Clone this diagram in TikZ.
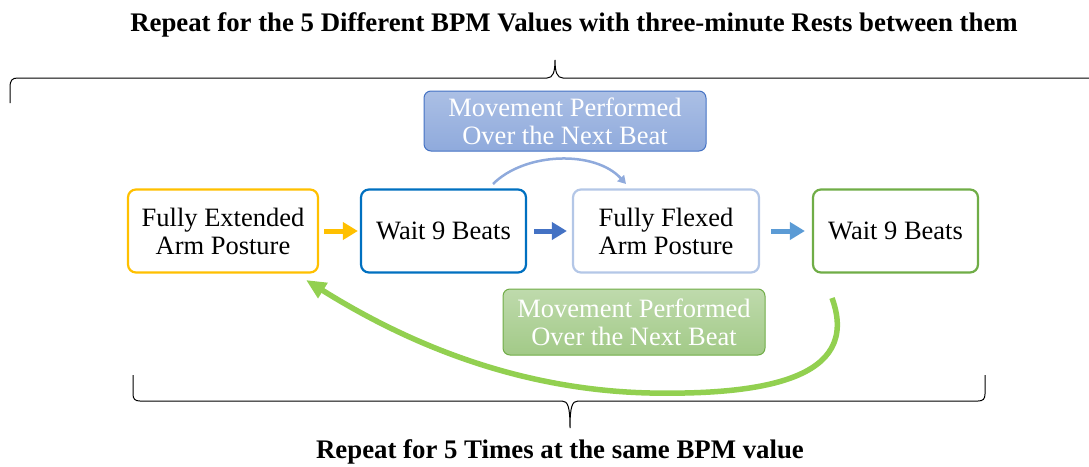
\documentclass[tikz,border=0pt]{standalone}
\usepackage{fontspec}
\setmainfont{Liberation Serif}
\usetikzlibrary{arrows.meta}
\definecolor{cYellow}{HTML}{FFC000}
\definecolor{cBlue}{HTML}{0070C0}
\definecolor{cLav}{HTML}{B4C7E7}
\definecolor{cGreen}{HTML}{70AD47}
\definecolor{cArrowB}{HTML}{4472C4}
\definecolor{cArrowL}{HTML}{5B9BD5}
\definecolor{cArc}{HTML}{8FAADC}
\definecolor{cLoop}{HTML}{92D050}
\tikzset{
  stagebox/.style={draw, line width=2.2pt, rounded corners=8pt, fill=white,
    align=center, font=\rmfamily\fontsize{26.5}{28}\selectfont, inner sep=0pt},
  notebox/.style={draw, line width=1pt, rounded corners=7pt, align=center,
    text=white, font=\rmfamily\fontsize{26.5}{28}\selectfont, inner sep=0pt},
  flowarrow/.style={line width=5pt, -{Triangle[length=15pt,width=17pt]}},
  brace/.style={line width=1pt, black},
  heading/.style={font=\rmfamily\bfseries\fontsize{26.8}{30}\selectfont}
}
\begin{document}
\begin{tikzpicture}[x=1pt,y=-1pt]
\useasboundingbox (0,0) rectangle (1089,466);

% headings
\node[heading] (top) at (574,25) {Repeat for the 5 Different BPM Values with three-minute Rests between them};
\node[heading] (bottom) at (560,452) {Repeat for 5 Times at the same BPM value};

% outer brace
\draw[brace] (10,103) -- (10,88) .. controls (10,80) and (12,78) .. (18,78)
  -- (547,78) .. controls (553,78) and (555,72) .. (555,60)
  .. controls (555,72) and (557,78) .. (563,78) -- (1089,78);

% inner brace
\draw[brace] (133,375) -- (133,394) .. controls (133,399) and (135,401) .. (140,401)
  -- (562,401) .. controls (568,401) and (570,407) .. (570,428)
  .. controls (570,407) and (572,401) .. (578,401)
  -- (978,401) .. controls (983,401) and (985,399) .. (985,394) -- (985,375);

% stage boxes
\node[stagebox, draw=cYellow, minimum width=190pt, minimum height=83pt] (ext) at (223,231) {Fully Extended\\Arm Posture};
\node[stagebox, draw=cBlue, minimum width=165pt, minimum height=83pt] (wait1) at (443.5,231) {Wait 9 Beats};
\node[stagebox, draw=cLav, minimum width=186pt, minimum height=83pt] (flex) at (666,231) {Fully Flexed\\Arm Posture};
\node[stagebox, draw=cGreen, minimum width=165pt, minimum height=83pt] (wait2) at (895.5,231) {Wait 9 Beats};

% note boxes
\node[notebox, draw=cArrowB, top color=cArc!75!white, bottom color=cArc,
  minimum width=282pt, minimum height=60pt] (noteTop) at (565,121) {Movement Performed\\Over the Next Beat};
\node[notebox, draw=cGreen, top color=cGreen!45!white, bottom color=cGreen!65!white,
  minimum width=262pt, minimum height=66pt] (noteBot) at (634,322) {Movement Performed\\Over the Next Beat};

% straight arrows between stages
\draw[flowarrow, cYellow] ([xshift=5pt]ext.east) -- ([xshift=-2pt]wait1.west);
\draw[flowarrow, cArrowB] ([xshift=7pt]wait1.east) -- ([xshift=-5pt]flex.west);
\draw[flowarrow, cArrowL] ([xshift=11pt]flex.east) -- ([xshift=-7pt]wait2.west);

% arc above
\coordinate (arcA) at (493,184);
\coordinate (arcB) at (626,184);
\draw[line width=2.5pt, cArc, -{Triangle[length=8pt,width=9pt]}]
  (arcA) .. controls (525,152) and (595,150) .. (arcB);

% return loop below
\coordinate (loopA) at (832,298);
\coordinate (loopB) at (306,280);
\draw[line width=5.5pt, cLoop, -{Triangle[length=20pt,width=17pt]}]
  (loopA) .. controls (862,380) and (760,395) .. (650,393)
  .. controls (520,390) and (410,345) .. (loopB);
\end{tikzpicture}
\end{document}
